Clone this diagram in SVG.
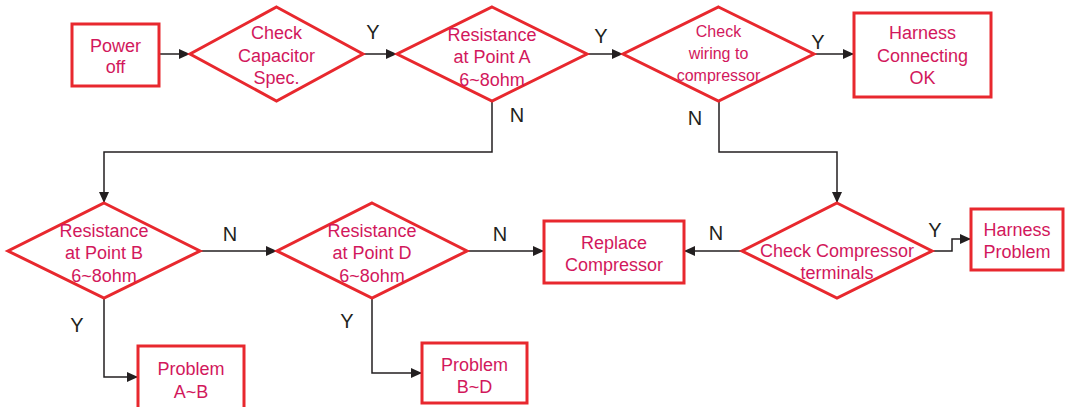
<svg xmlns="http://www.w3.org/2000/svg" width="1067" height="407" viewBox="0 0 1067 407">
<defs>
<style>
.box{fill:#fff;stroke:#e8282e;stroke-width:3}
.t{font-family:"Liberation Sans",Arial,sans-serif;font-size:18px;fill:#d2185c;text-anchor:middle}
.ts{font-size:16px}
.lbl{font-family:"Liberation Sans",Arial,sans-serif;font-size:20px;fill:#231f20;text-anchor:middle}
.c{fill:none;stroke:#231f20;stroke-width:1.5}
</style>
<marker id="ah" markerUnits="userSpaceOnUse" markerWidth="12" markerHeight="11" refX="11" refY="5" orient="auto">
<path d="M0,0 L11,5 L0,10 z" fill="#231f20"/>
</marker>
</defs>
<rect width="1067" height="407" fill="#fff"/>
<g id="connectors">
<path class="c" d="M159,54 H190" marker-end="url(#ah)"/>
<path class="c" d="M363,54 H397" marker-end="url(#ah)"/>
<path class="c" d="M587,54 H623" marker-end="url(#ah)"/>
<path class="c" d="M814,54 H854" marker-end="url(#ah)"/>
<path class="c" d="M492,101 V152 H104 V203" marker-end="url(#ah)"/>
<path class="c" d="M719,101 V152 H837 V203" marker-end="url(#ah)"/>
<path class="c" d="M200,251 H277" marker-end="url(#ah)"/>
<path class="c" d="M104,298 V377 H138" marker-end="url(#ah)"/>
<path class="c" d="M467,251 H544" marker-end="url(#ah)"/>
<path class="c" d="M372,298 V373 H422" marker-end="url(#ah)"/>
<path class="c" d="M742,251 H684" marker-end="url(#ah)"/>
<path class="c" d="M932,251 H952 V239 H971" marker-end="url(#ah)"/>
<text class="lbl" x="373" y="39">Y</text>
<text class="lbl" x="601" y="43">Y</text>
<text class="lbl" x="818" y="49">Y</text>
<text class="lbl" x="517" y="122">N</text>
<text class="lbl" x="695" y="125">N</text>
<text class="lbl" x="230" y="241">N</text>
<text class="lbl" x="77" y="332">Y</text>
<text class="lbl" x="500" y="241">N</text>
<text class="lbl" x="347" y="328">Y</text>
<text class="lbl" x="716" y="240">N</text>
<text class="lbl" x="935" y="237">Y</text>
</g>
<g id="power-off">
<rect class="box" x="72" y="24" width="87" height="62"/>
<text class="t" x="115.5" y="52">Power</text>
<text class="t" x="115.5" y="73">off</text>
</g>
<g id="check-capacitor">
<polygon class="box" points="276.5,7 363,54 276.5,101 190,54"/>
<text class="t" x="276.5" y="39">Check</text>
<text class="t" x="276.5" y="62">Capacitor</text>
<text class="t" x="276.5" y="84">Spec.</text>
</g>
<g id="resistance-a">
<polygon class="box" points="492,7 587,54 492,101 397,54"/>
<text class="t" x="492" y="41">Resistance</text>
<text class="t" x="492" y="63">at Point A</text>
<text class="t" x="492" y="86">6~8ohm</text>
</g>
<g id="check-wiring">
<polygon class="box" points="718.5,7 814,54 718.5,101 623,54"/>
<text class="t ts" x="718.5" y="37">Check</text>
<text class="t ts" x="718.5" y="59">wiring to</text>
<text class="t ts" x="718.5" y="81">compressor</text>
</g>
<g id="harness-ok">
<rect class="box" x="854" y="13" width="137" height="84"/>
<text class="t" x="922.5" y="39">Harness</text>
<text class="t" x="922.5" y="62">Connecting</text>
<text class="t" x="922.5" y="84">OK</text>
</g>
<g id="resistance-b">
<polygon class="box" points="104,203 200,251 104,298 8,251"/>
<text class="t" x="104" y="237">Resistance</text>
<text class="t" x="104" y="259">at Point B</text>
<text class="t" x="104" y="282">6~8ohm</text>
</g>
<g id="resistance-d">
<polygon class="box" points="372,203 467,251 372,298 277,251"/>
<text class="t" x="372" y="237">Resistance</text>
<text class="t" x="372" y="259">at Point D</text>
<text class="t" x="372" y="282">6~8ohm</text>
</g>
<g id="replace-compressor">
<rect class="box" x="544" y="221" width="140" height="62"/>
<text class="t" x="614" y="249">Replace</text>
<text class="t" x="614" y="271">Compressor</text>
</g>
<g id="check-terminals">
<polygon class="box" points="837,203 932,251 837,298 742,251"/>
<text class="t" x="837" y="257">Check Compressor</text>
<text class="t" x="837" y="279">terminals</text>
</g>
<g id="harness-problem">
<rect class="box" x="971" y="209" width="92" height="61"/>
<text class="t" x="1017" y="236">Harness</text>
<text class="t" x="1017" y="258">Problem</text>
</g>
<g id="problem-ab">
<rect class="box" x="138" y="346" width="106" height="64"/>
<text class="t" x="191" y="375">Problem</text>
<text class="t" x="191" y="398">A~B</text>
</g>
<g id="problem-bd">
<rect class="box" x="422" y="343" width="105" height="60"/>
<text class="t" x="474.5" y="371">Problem</text>
<text class="t" x="474.5" y="393">B~D</text>
</g>
</svg>
